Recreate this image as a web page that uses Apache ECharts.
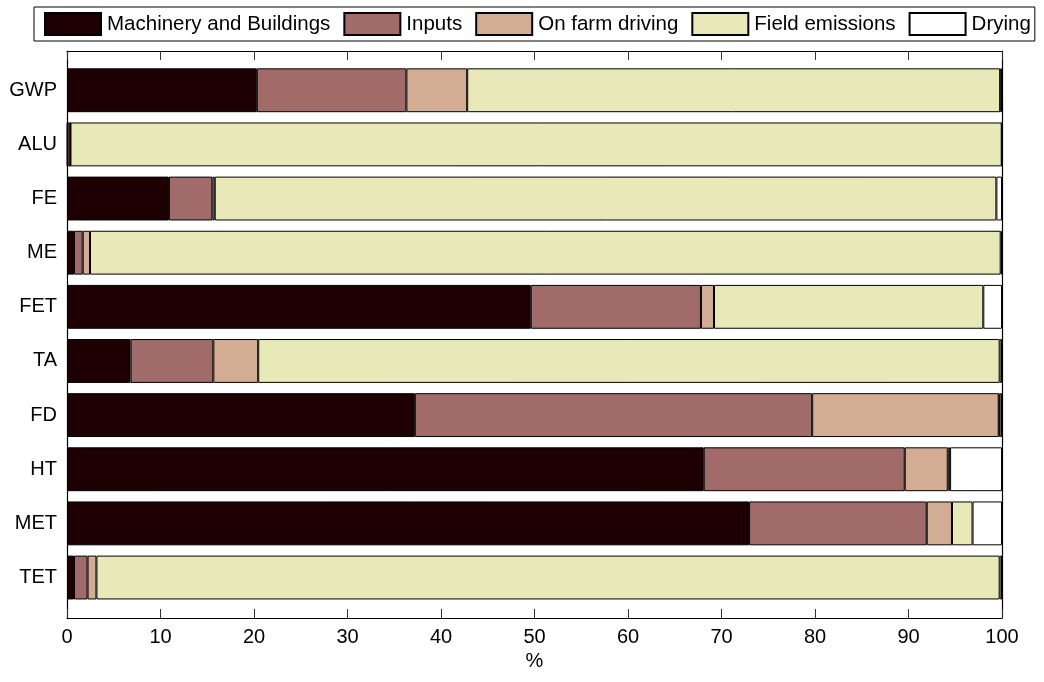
<!DOCTYPE html>
<html>
<head>
<meta charset="utf-8">
<script src="https://cdn.jsdelivr.net/npm/echarts@6/dist/echarts.min.js"></script>
<style>
  html, body { margin: 0; padding: 0; background: #fff; }
  #chart { width: 1044px; height: 682px; }
</style>
</head>
<body>
<div id="chart"></div>
<script>
// Impact categories, top to bottom
const categories = ['GWP', 'ALU', 'FE', 'ME', 'FET', 'TA', 'FD', 'HT', 'MET', 'TET'];

// Contribution of each stage to each impact category (%)
const machinery = [20.3, 0.05, 10.9, 0.75, 49.6, 6.8, 37.2, 68.1, 72.95, 0.75];
const inputs    = [16.0, 0.3, 4.65, 0.93, 18.2, 8.85, 42.5, 21.5, 19.0, 1.45];
const driving   = [6.5, 0.02, 0.25, 0.78, 1.4, 4.8, 19.95, 4.6, 2.7, 0.95];
const field     = [57.0, 99.6, 83.6, 97.4, 28.8, 79.3, 0.1, 0.25, 2.2, 96.6];
const drying    = [0.2, 0.03, 0.6, 0.14, 2.0, 0.25, 0.25, 5.55, 3.15, 0.25];

const xTicks = { min: 0, max: 100, interval: 10 };

const font = "'Liberation Sans', Arial, Helvetica, sans-serif";

const stages = [
  { name: 'Machinery and Buildings', data: machinery, color: '#1f0002' },
  { name: 'Inputs',                  data: inputs,    color: '#a16b69' },
  { name: 'On farm driving',         data: driving,   color: '#d2ad94' },
  { name: 'Field emissions',         data: field,     color: '#e9e8b8' },
  { name: 'Drying',                  data: drying,    color: '#ffffff' }
];

const chart = echarts.init(document.getElementById('chart'), null, { renderer: 'canvas' });

const boxLine = { show: true, onZero: false, lineStyle: { color: '#000', width: 1.2 } };

chart.setOption({
  animation: false,
  backgroundColor: '#fff',
  textStyle: { fontFamily: font },
  legend: {
    left: 34,
    top: 7,
    orient: 'horizontal',
    icon: 'rect',
    itemWidth: 56,
    itemHeight: 22,
    itemGap: 13,
    padding: [5, 4, 5, 10],
    borderColor: '#000',
    borderWidth: 1,
    backgroundColor: '#fff',
    textStyle: { fontFamily: font, fontSize: 20.5, color: '#000', padding: [0, 0, 0, 1] },
    data: stages.map(s => s.name)
  },
  grid: [
    // bars
    { left: 67, right: 42, top: 63.2, bottom: 77.4 },
    // axes box
    { left: 67, right: 42, top: 51, bottom: 64 }
  ],
  xAxis: [
    { gridIndex: 0, type: 'value', min: xTicks.min, max: xTicks.max, show: false },
    {
      gridIndex: 1, type: 'value', position: 'bottom',
      min: xTicks.min, max: xTicks.max, interval: xTicks.interval,
      z: 10,
      name: '%', nameLocation: 'middle', nameGap: 31,
      nameTextStyle: { fontFamily: font, fontSize: 20, color: '#000' },
      axisLine: boxLine,
      axisTick: { show: true, inside: true, length: 9, lineStyle: { color: '#333' } },
      axisLabel: { fontFamily: font, fontSize: 20, color: '#000', margin: 9 },
      splitLine: { show: false }
    },
    {
      gridIndex: 1, type: 'value', position: 'top',
      min: xTicks.min, max: xTicks.max, interval: xTicks.interval,
      z: 10,
      axisLine: boxLine,
      axisTick: { show: true, inside: true, length: 9, lineStyle: { color: '#333' } },
      axisLabel: { show: false },
      splitLine: { show: false }
    }
  ],
  yAxis: [
    {
      gridIndex: 0, type: 'category', data: categories, inverse: true,
      axisLine: { show: false },
      axisTick: { show: false },
      axisLabel: { fontFamily: font, fontSize: 20, color: '#000', margin: 10 }
    },
    {
      gridIndex: 1, type: 'value', position: 'left', min: 0, max: 1, z: 10,
      axisLine: boxLine,
      axisTick: { show: false }, axisLabel: { show: false }, splitLine: { show: false }
    },
    {
      gridIndex: 1, type: 'value', position: 'right', min: 0, max: 1, z: 10,
      axisLine: boxLine,
      axisTick: { show: false }, axisLabel: { show: false }, splitLine: { show: false }
    }
  ],
  series: stages.map(s => ({
    name: s.name,
    type: 'bar',
    stack: 'total',
    xAxisIndex: 0,
    yAxisIndex: 0,
    barWidth: '81%',
    data: s.data,
    itemStyle: { color: s.color, borderColor: '#000', borderWidth: 1 }
  }))
});
</script>
</body>
</html>
